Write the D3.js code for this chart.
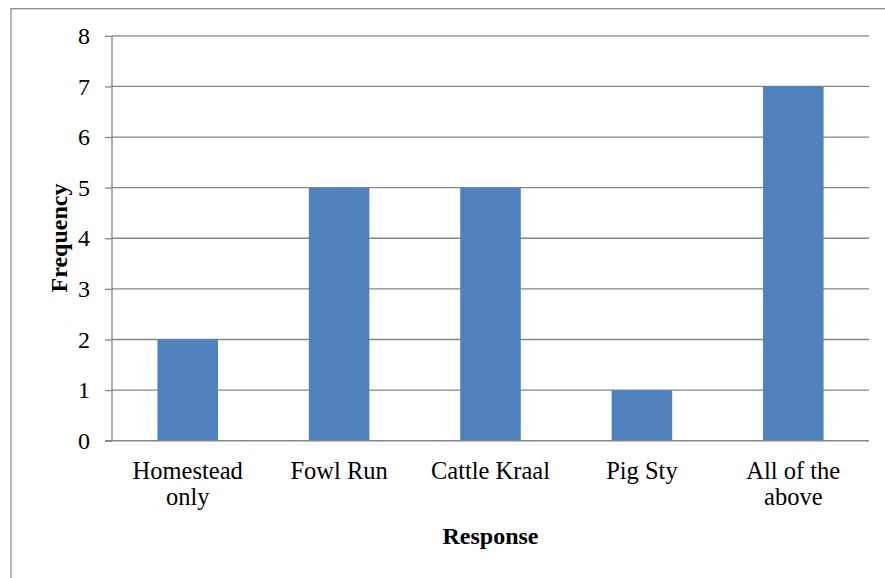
<!DOCTYPE html>
<html>
<head>
<meta charset="utf-8">
<script src="https://cdn.jsdelivr.net/npm/d3@7"></script>
<style>
  html, body { margin: 0; padding: 0; background: #fff; }
  svg { display: block; }
  text { font-family: "Liberation Serif", "Times New Roman", serif; fill: #000; }
</style>
</head>
<body>
<svg id="chart" width="885" height="578"></svg>
<script>
// Responses and their counts
const categories = [["Homestead", "only"], ["Fowl Run"], ["Cattle Kraal"], ["Pig Sty"], ["All of the", "above"]];
const frequencies = [2, 5, 5, 1, 7];
const yTicks = [0, 1, 2, 3, 4, 5, 6, 7, 8];

const svg = d3.select("#chart");
const W = 885, H = 578;
const plot = { left: 112, right: 869, top: 35.8, bottom: 440.7 };

// chart frame (extends past the right and bottom edges)
svg.append("rect")
  .attr("x", 11).attr("y", 8.7)
  .attr("width", W + 10).attr("height", H + 10)
  .attr("fill", "none").attr("stroke", "#8c8c8c").attr("stroke-width", 1.3);

const keys = categories.map(c => c.join(" "));
const x = d3.scaleBand().domain(keys).range([plot.left, plot.right]).paddingInner(0.6).paddingOuter(0.3);
const y = d3.scaleLinear().domain([0, 8]).range([plot.bottom, plot.top]);

// horizontal gridlines
svg.append("g")
  .selectAll("line")
  .data(yTicks.filter(d => d > 0))
  .join("line")
  .attr("x1", plot.left).attr("x2", plot.right)
  .attr("y1", d => y(d)).attr("y2", d => y(d))
  .attr("stroke", "#868686").attr("stroke-width", 1.3);

// bars
svg.append("g")
  .selectAll("rect")
  .data(frequencies)
  .join("rect")
  .attr("x", (d, i) => x(keys[i]))
  .attr("width", x.bandwidth())
  .attr("y", d => y(d))
  .attr("height", d => y(0) - y(d))
  .attr("fill", "#4F81BD");

// y axis
const yAxis = svg.append("g")
  .attr("transform", `translate(${plot.left},0)`)
  .call(d3.axisLeft(y).tickValues(yTicks).tickSize(7).tickPadding(15).tickFormat(d3.format("d")));
yAxis.select(".domain").attr("stroke", "#868686").attr("stroke-width", 1.3).attr("d", `M0,${plot.top}V${plot.bottom}`);
yAxis.selectAll(".tick line").attr("stroke", "#868686").attr("stroke-width", 1.3);
yAxis.selectAll(".tick text")
  .style("font-family", "'Liberation Serif', 'Times New Roman', serif")
  .style("font-size", "24px").attr("fill", "#000");

// x axis baseline
svg.append("line")
  .attr("x1", plot.left - 7).attr("x2", plot.right)
  .attr("y1", y(0)).attr("y2", y(0))
  .attr("stroke", "#868686").attr("stroke-width", 1.5);

// category labels
const lab = svg.append("g")
  .selectAll("text")
  .data(categories)
  .join("text")
  .attr("text-anchor", "middle")
  .attr("x", (d, i) => x(keys[i]) + x.bandwidth() / 2)
  .attr("y", 479.3)
  .style("font-size", "24.5px");
lab.selectAll("tspan")
  .data(d => d)
  .join("tspan")
  .attr("x", function () { return this.parentNode.getAttribute("x"); })
  .attr("dy", (d, i) => i === 0 ? 0 : 25.7)
  .text(d => d);

// axis titles
svg.append("text")
  .attr("text-anchor", "middle")
  .attr("transform", "translate(67,238) rotate(-90)")
  .style("font-size", "24px").style("font-weight", "bold")
  .text("Frequency");

svg.append("text")
  .attr("text-anchor", "middle")
  .attr("x", 490.5).attr("y", 544)
  .style("font-size", "24px").style("font-weight", "bold")
  .text("Response");
</script>
</body>
</html>
